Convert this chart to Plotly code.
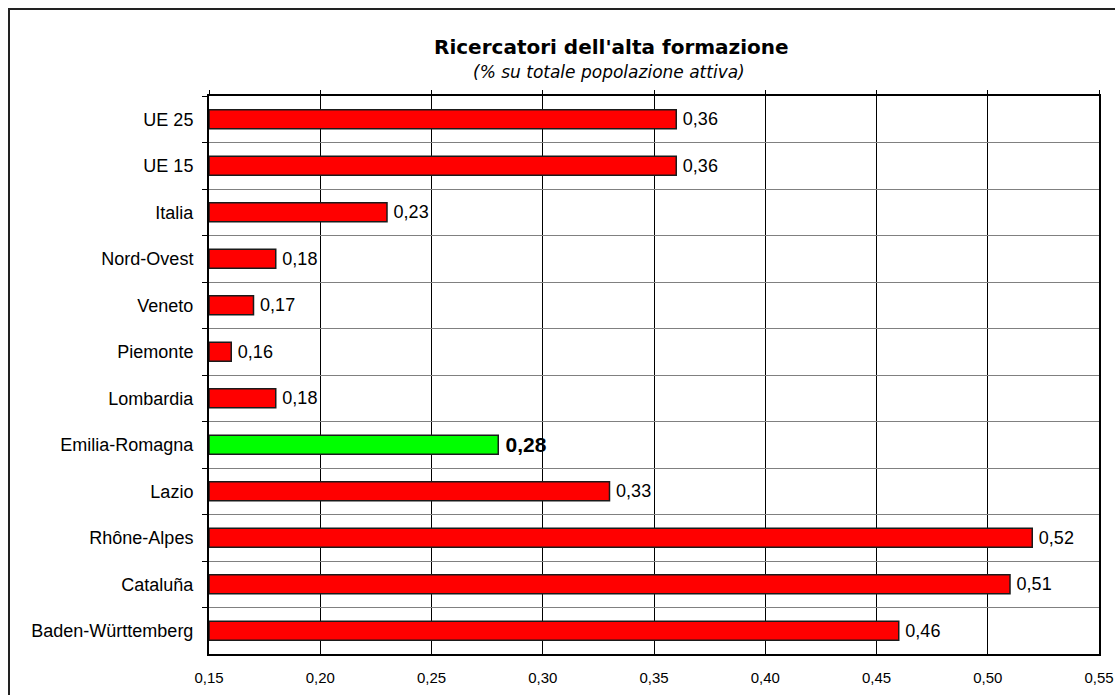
import plotly.graph_objects as go

# Data: high-level researchers as % of the active population
regions = [
    "UE 25", "UE 15", "Italia", "Nord-Ovest", "Veneto", "Piemonte",
    "Lombardia", "Emilia-Romagna", "Lazio", "Rhône-Alpes", "Cataluña",
    "Baden-Württemberg",
]
values = [0.36, 0.36, 0.23, 0.18, 0.17, 0.16, 0.18, 0.28, 0.33, 0.52, 0.51, 0.46]
highlight = "Emilia-Romagna"

x_min, x_max = 0.15, 0.55
x_ticks = [0.15, 0.20, 0.25, 0.30, 0.35, 0.40, 0.45, 0.50, 0.55]

W, H = 1115, 695
ML, MR, MT, MB = 209, 16, 96, 41
PW, PH = W - ML - MR, H - MT - MB


def px_x(p):
    return (p - ML) / PW


def px_y(p):
    return 1 - (p - MT) / PH


colors = ["#00FF00" if r == highlight else "#FF0000" for r in regions]
# thin space keeps the value label slightly off the bar end
templates = ["\u2009<b>%{customdata:.2f}</b>" if r == highlight else "\u2009%{customdata:.2f}"
             for r in regions]
sizes = [21 if r == highlight else 18 for r in regions]

fig = go.Figure()
fig.add_trace(go.Bar(
    y=regions,
    x=[v - x_min for v in values],   # bars start at the axis minimum
    base=x_min,
    customdata=values,
    orientation="h",
    marker=dict(color=colors, line=dict(color="#1a1a1a", width=1.5)),
    texttemplate=templates,
    textposition="outside",
    textfont=dict(family="Liberation Sans, Arial", size=sizes, color="black"),
    constraintext="none",
    cliponaxis=False,
    showlegend=False,
    hoverinfo="skip",
))

# Empty trace to carry the top tick axis
fig.add_trace(go.Scatter(x=[], y=[], xaxis="x2", showlegend=False, hoverinfo="skip"))

fig.update_layout(
    width=W, height=H,
    margin=dict(l=ML, r=MR, t=MT, b=MB, autoexpand=False),
    paper_bgcolor="white",
    plot_bgcolor="white",
    separators=",.",
    bargap=0.59,
    xaxis=dict(
        range=[x_min, x_max],
        tickvals=x_ticks,
        tickformat=".2f",
        automargin=False,
        showgrid=True, gridcolor="black", gridwidth=1,
        showline=True, linecolor="black", linewidth=2, mirror=True,
        ticks="", ticklabelstandoff=9,
        tickfont=dict(family="Liberation Sans, Arial", size=15, color="black"),
        zeroline=False,
    ),
    xaxis2=dict(
        range=[x_min, x_max],
        tickvals=x_ticks,
        overlaying="x", side="top",
        automargin=False,
        showticklabels=False, showgrid=False,
        ticks="outside", ticklen=5, tickcolor="black", tickwidth=1,
        showline=False, zeroline=False,
    ),
    yaxis=dict(
        categoryorder="array", categoryarray=regions,
        autorange="reversed",
        automargin=False,
        tickson="boundaries",
        ticks="outside", ticklen=5, tickcolor="black", tickwidth=1,
        showgrid=True, gridcolor="#808080", gridwidth=1,
        showline=True, linecolor="black", linewidth=2, mirror=True,
        ticklabelstandoff=10,
        tickfont=dict(family="Liberation Sans, Arial", size=18, color="black"),
        zeroline=False,
    ),
    annotations=[
        dict(text="<b>Ricercatori dell'alta formazione</b>",
             xref="paper", yref="paper", x=px_x(611), y=px_y(47),
             xanchor="center", yanchor="middle", showarrow=False,
             font=dict(family="DejaVu Sans", size=20, color="black")),
        dict(text="<i>(% su totale popolazione attiva)</i>",
             xref="paper", yref="paper", x=px_x(609), y=px_y(72),
             xanchor="center", yanchor="middle", showarrow=False,
             font=dict(family="DejaVu Sans", size=17, color="black")),
    ],
    shapes=[
        dict(type="rect", xref="paper", yref="paper",
             x0=px_x(9), y0=px_y(720), x1=px_x(1140), y1=px_y(9),
             line=dict(color="#222222", width=2), fillcolor="rgba(0,0,0,0)",
             layer="below"),
    ],
)

fig.write_html("out.html")
